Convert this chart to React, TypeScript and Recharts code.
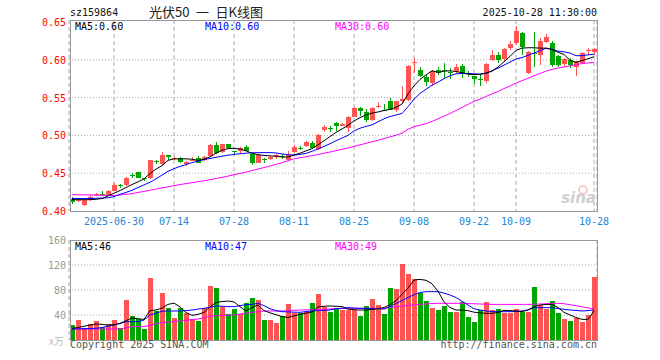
import React from "react";
import { ComposedChart, Bar, Line, XAxis, YAxis, CartesianGrid } from "recharts";

// trading days shown on the chart
const dates = [
  "2025-06-19", "2025-06-20", "2025-06-23", "2025-06-24", "2025-06-25", "2025-06-26", "2025-06-27", "2025-06-30",
  "2025-07-01", "2025-07-02", "2025-07-03", "2025-07-04", "2025-07-07", "2025-07-08", "2025-07-09", "2025-07-10",
  "2025-07-11", "2025-07-14", "2025-07-15", "2025-07-16", "2025-07-17", "2025-07-18", "2025-07-21", "2025-07-22",
  "2025-07-23", "2025-07-24", "2025-07-25", "2025-07-28", "2025-07-29", "2025-07-30", "2025-07-31",
  "2025-08-01", "2025-08-04", "2025-08-05", "2025-08-06", "2025-08-07", "2025-08-08", "2025-08-11", "2025-08-12",
  "2025-08-13", "2025-08-14", "2025-08-15", "2025-08-18", "2025-08-19", "2025-08-20", "2025-08-21", "2025-08-22",
  "2025-08-25", "2025-08-26", "2025-08-27", "2025-08-28", "2025-08-29",
  "2025-09-01", "2025-09-02", "2025-09-03", "2025-09-04", "2025-09-05", "2025-09-08", "2025-09-09", "2025-09-10",
  "2025-09-11", "2025-09-12", "2025-09-15", "2025-09-16", "2025-09-17", "2025-09-18", "2025-09-19", "2025-09-22",
  "2025-09-23", "2025-09-24", "2025-09-25", "2025-09-26", "2025-09-29", "2025-09-30",
  "2025-10-09", "2025-10-10", "2025-10-13", "2025-10-14", "2025-10-15", "2025-10-16", "2025-10-17", "2025-10-20",
  "2025-10-21", "2025-10-22", "2025-10-23", "2025-10-24", "2025-10-27", "2025-10-28",
];

const openP = [
  0.416, 0.413, 0.408, 0.414, 0.421, 0.423, 0.421, 0.427, 0.434, 0.434,
  0.447, 0.452, 0.443, 0.443, 0.466, 0.462, 0.474, 0.469, 0.470, 0.462,
  0.467, 0.470, 0.467, 0.473, 0.487, 0.478, 0.489, 0.479, 0.479, 0.485,
  0.476, 0.464, 0.469, 0.469, 0.471, 0.473, 0.468, 0.478, 0.484, 0.486,
  0.490, 0.482, 0.507, 0.510, 0.516, 0.513, 0.510, 0.525, 0.536, 0.531,
  0.520, 0.537, 0.534, 0.545, 0.533, 0.545, 0.547, 0.596, 0.587, 0.577,
  0.569, 0.587, 0.586, 0.584, 0.584, 0.592, 0.582, 0.578, 0.575, 0.572,
  0.600, 0.606, 0.601, 0.615, 0.622, 0.636, 0.582, 0.609, 0.607, 0.624,
  0.622, 0.605, 0.594, 0.600, 0.591, 0.596, 0.612, 0.611,
];
const closeP = [
  0.412, 0.414, 0.414, 0.419, 0.423, 0.422, 0.427, 0.435, 0.433, 0.444,
  0.446, 0.444, 0.442, 0.467, 0.465, 0.474, 0.472, 0.470, 0.465, 0.465,
  0.468, 0.464, 0.472, 0.487, 0.477, 0.488, 0.484, 0.478, 0.484, 0.480,
  0.463, 0.474, 0.468, 0.471, 0.474, 0.472, 0.474, 0.485, 0.483, 0.491,
  0.483, 0.500, 0.511, 0.509, 0.513, 0.515, 0.525, 0.536, 0.532, 0.520,
  0.536, 0.539, 0.533, 0.534, 0.545, 0.548, 0.592, 0.597, 0.579, 0.571,
  0.585, 0.582, 0.585, 0.583, 0.591, 0.583, 0.581, 0.575, 0.574, 0.595,
  0.607, 0.600, 0.614, 0.621, 0.638, 0.617, 0.611, 0.608, 0.625, 0.630,
  0.593, 0.593, 0.601, 0.593, 0.598, 0.609, 0.613, 0.614,
];
const highP = [
  0.418, 0.415, 0.415, 0.421, 0.424, 0.426, 0.428, 0.437, 0.436, 0.445,
  0.450, 0.452, 0.444, 0.468, 0.468, 0.478, 0.474, 0.472, 0.471, 0.466,
  0.471, 0.473, 0.473, 0.488, 0.491, 0.489, 0.489, 0.480, 0.485, 0.487,
  0.477, 0.475, 0.470, 0.473, 0.475, 0.475, 0.479, 0.487, 0.486, 0.492,
  0.492, 0.502, 0.514, 0.513, 0.518, 0.517, 0.526, 0.537, 0.538, 0.535,
  0.537, 0.544, 0.541, 0.550, 0.546, 0.565, 0.593, 0.603, 0.590, 0.580,
  0.587, 0.590, 0.596, 0.589, 0.594, 0.594, 0.585, 0.579, 0.581, 0.596,
  0.613, 0.610, 0.615, 0.625, 0.645, 0.637, 0.612, 0.637, 0.629, 0.634,
  0.625, 0.606, 0.603, 0.602, 0.599, 0.611, 0.616, 0.615,
];
const lowP = [
  0.409, 0.412, 0.407, 0.413, 0.420, 0.420, 0.420, 0.426, 0.431, 0.433,
  0.443, 0.443, 0.440, 0.442, 0.462, 0.461, 0.468, 0.467, 0.464, 0.460,
  0.466, 0.463, 0.466, 0.472, 0.476, 0.477, 0.483, 0.475, 0.476, 0.479,
  0.461, 0.463, 0.463, 0.468, 0.469, 0.469, 0.467, 0.477, 0.481, 0.485,
  0.482, 0.481, 0.505, 0.505, 0.506, 0.512, 0.505, 0.524, 0.526, 0.518,
  0.519, 0.536, 0.532, 0.533, 0.531, 0.543, 0.546, 0.583, 0.577, 0.565,
  0.566, 0.580, 0.576, 0.574, 0.583, 0.576, 0.577, 0.568, 0.565, 0.570,
  0.599, 0.596, 0.599, 0.613, 0.620, 0.607, 0.581, 0.591, 0.593, 0.622,
  0.590, 0.590, 0.592, 0.589, 0.578, 0.594, 0.606, 0.607,
];

// moving averages as drawn on the chart
const ma5 = [
  0.415, 0.415, 0.415, 0.415, 0.4155, 0.4165, 0.420, 0.4235, 0.427, 0.431,
  0.435, 0.4385, 0.4425, 0.4495, 0.4555, 0.460, 0.467, 0.469, 0.469, 0.469,
  0.4685, 0.467, 0.4685, 0.4715, 0.4765, 0.4805, 0.4825, 0.483, 0.482, 0.4795,
  0.4765, 0.4745, 0.4735, 0.473, 0.4725, 0.4715, 0.4715, 0.474, 0.4765, 0.4795,
  0.4825, 0.4875, 0.493, 0.4985, 0.504, 0.5085, 0.5135, 0.519, 0.5235, 0.527,
  0.5295, 0.531, 0.533, 0.5345, 0.537, 0.5415, 0.555, 0.5655, 0.574, 0.580,
  0.5855, 0.5835, 0.585, 0.5855, 0.5845, 0.583, 0.581, 0.5805, 0.581, 0.5825,
  0.585, 0.5905, 0.5975, 0.6045, 0.6125, 0.6155, 0.616, 0.616, 0.6155, 0.6155,
  0.6135, 0.610, 0.607, 0.5995, 0.5965, 0.599, 0.6015, 0.604,
];
const ma10 = [
  0.4165, 0.4165, 0.4165, 0.4165, 0.4168, 0.417, 0.4175, 0.419, 0.422, 0.4245,
  0.4275, 0.431, 0.4345, 0.438, 0.4425, 0.4475, 0.4525, 0.456, 0.459, 0.4615,
  0.464, 0.466, 0.468, 0.4695, 0.471, 0.4725, 0.4738, 0.4748, 0.4758, 0.4765,
  0.477, 0.4772, 0.4772, 0.4772, 0.4768, 0.4755, 0.4745, 0.474, 0.4748, 0.4762,
  0.479, 0.482, 0.4855, 0.489, 0.493, 0.4965, 0.500, 0.506, 0.5095, 0.512,
  0.514, 0.518, 0.522, 0.525, 0.527, 0.529, 0.538, 0.548, 0.5555, 0.561,
  0.5665, 0.5705, 0.575, 0.579, 0.5815, 0.582, 0.582, 0.5815, 0.581, 0.582,
  0.5855, 0.589, 0.593, 0.597, 0.601, 0.603, 0.606, 0.609, 0.612, 0.6155,
  0.614, 0.6115, 0.6105, 0.609, 0.6055, 0.6055, 0.6065, 0.6075,
];
const ma30 = [
  0.4215, 0.4215, 0.4213, 0.4212, 0.421, 0.4208, 0.4206, 0.4205, 0.4212, 0.422,
  0.423, 0.4245, 0.426, 0.4275, 0.429, 0.4305, 0.432, 0.4335, 0.435, 0.4362,
  0.4375, 0.4388, 0.440, 0.4415, 0.443, 0.4445, 0.4462, 0.448, 0.4497, 0.4515,
  0.4535, 0.4555, 0.4575, 0.4595, 0.4618, 0.464, 0.4665, 0.469, 0.4705, 0.4718,
  0.4732, 0.4748, 0.4765, 0.478, 0.4798, 0.4815, 0.4835, 0.4855, 0.4875, 0.4895,
  0.4915, 0.4935, 0.4958, 0.498, 0.5003, 0.503, 0.508, 0.5115, 0.5135, 0.5155,
  0.5185, 0.522, 0.5255, 0.529, 0.533, 0.537, 0.541, 0.545, 0.548, 0.5515,
  0.555, 0.558, 0.562, 0.5655, 0.569, 0.5725, 0.5755, 0.579, 0.582, 0.585,
  0.5875, 0.589, 0.5905, 0.592, 0.5935, 0.595, 0.596, 0.5965,
];

// volume, 万
const volume = [
  24, 32, 18.7, 25.6, 30.4, 21.3, 25.6, 32, 18.7, 64,
  39, 33.6, 17.6, 98.7, 46.4, 75.7, 50.7, 35.7, 50.7, 42.7,
  33.6, 30.4, 50.7, 86.4, 83.7, 53.3, 41, 49.6, 41, 58.7,
  66.7, 64, 32, 32, 27.7, 39, 57.6, 42.7, 42.7, 44.3,
  58.7, 73.6, 53.3, 44.3, 50.7, 48, 48, 48, 39, 54.4,
  65.6, 56, 41.6, 83.7, 81.6, 121.6, 105.6, 97.6, 75.7, 62.4,
  51.7, 48, 54.4, 45.3, 45.3, 60.3, 37.3, 29.3, 48, 60.8,
  48, 49.6, 43.7, 43.7, 49.6, 45.3, 45.3, 84.8, 56, 49.6,
  62.4, 43.2, 33.6, 30.4, 35.7, 29.3, 40, 101.3,
];
const vma5 = [
  18.7, 20, 22, 24, 25.6, 25, 24, 24.5, 26.5, 31,
  35, 34, 33, 47, 48, 51, 57, 59, 53, 44,
  39.5, 41, 44.3, 53, 60, 61.5, 62.4, 61, 53.3, 46.4,
  52, 56, 47, 43.5, 40.5, 37.5, 36, 38.5, 41, 43,
  44.5, 53, 54, 54.4, 54, 53.5, 49.5, 48.5, 48, 48,
  49, 50.2, 52, 56.5, 63, 73, 83, 96, 97, 95.5,
  90, 78, 61, 52, 48, 48, 47, 44.5, 43.5, 42.7,
  42.7, 44, 47.5, 47, 46.4, 45.5, 48, 53.3, 56, 57,
  57, 52, 44.3, 40, 36, 33, 33, 46.4,
];
const vma10 = [
  17.6, 17.8, 18, 18.3, 18.7, 20, 22, 24, 26.5, 29.3,
  29.3, 29.3, 32, 40, 43, 46, 46.4, 46.4, 46.4, 47,
  48, 49.5, 50.7, 52.5, 54.4, 54, 53.5, 53.3, 55, 56.5,
  57, 58.7, 55, 50, 47, 45.3, 45, 44.5, 44.3, 45.5,
  46.4, 47, 47.5, 48, 50, 51, 51.7, 51.2, 50.7, 50.7,
  50.2, 50, 49.5, 53.5, 58.5, 63, 68, 72.5, 76, 77.3,
  77.3, 77.3, 75, 72, 68, 62, 56, 50, 48, 46.5,
  45.5, 45.3, 45.3, 45.3, 45.8, 46.4, 48, 51.7, 51.7, 51.7,
  51.7, 50.5, 49, 48, 47.3, 46.4, 47, 48,
];
const vma30 = [
  17.6, 17.6, 17.6, 17.6, 17.6, 17.6, 17.6, 17.6, 17.6, 19.5,
  21.3, 21.3, 21.3, 23.5, 26, 27.5, 28.5, 29.5, 30.4, 31.5,
  32.5, 33.6, 35.5, 38, 39, 39.3, 39.7, 40, 41.5, 43,
  44.3, 45.3, 46.4, 46.4, 46.4, 46.4, 47, 47.5, 48, 48.2,
  48.4, 48.6, 48.8, 49.6, 50, 50.3, 50.5, 50.7, 50.7, 50.7,
  50.7, 50.7, 50.7, 52, 53.3, 54.3, 55.3, 56.3, 57, 57.8,
  58.3, 58.7, 58.7, 58.7, 58.7, 58.7, 58.3, 58, 57.6, 57.3,
  57, 57, 57, 57, 57, 57, 57, 57.3, 57.6, 58,
  58.3, 58.7, 58, 56.5, 54.9, 53, 51.5, 49.6,
];

const xTicks = ["2025-06-30", "2025-07-14", "2025-07-28", "2025-08-11", "2025-08-25", "2025-09-08", "2025-09-22", "2025-10-09", "2025-10-28"];
const priceTicks = [0.4, 0.45, 0.5, 0.55, 0.6, 0.65];
const volTicks = [40, 80, 120, 160];

const RED = "#ff5454";
const GREEN = "#00a600";
const GRID = "#a8a8a8";
const MONO = "'DejaVu Sans Mono', monospace";

const kData = dates.map((d, i) => ({
  date: d,
  open: openP[i],
  close: closeP[i],
  high: highP[i],
  low: lowP[i],
  ma5: ma5[i],
  ma10: ma10[i],
  ma30: ma30[i],
}));

const volData = dates.map((d, i) => ({
  date: d,
  vol: volume[i],
  up: closeP[i] >= openP[i],
  ma5: vma5[i],
  ma10: vma10[i],
  ma30: vma30[i],
}));

// candle drawn inside the [low, high] range bar
const Candle = (props: any) => {
  const { x, y, width, height, payload } = props;
  if (!payload || x == null || y == null) return null;
  const { open, close, high, low } = payload;
  const top = Math.min(y, y + height);
  const h = Math.abs(height);
  const span = high - low;
  const toY = (v: number) => (span > 0 ? top + ((high - v) / span) * h : top);
  const color = close >= open ? RED : GREEN;
  const left = Math.round(x);
  const bw = Math.round(width);
  const mid = left + Math.floor(bw / 2);
  const wTop = Math.round(top);
  const wBot = Math.round(top + h);
  const bTop = Math.round(toY(Math.max(open, close)));
  const bBot = Math.round(toY(Math.min(open, close)));
  return (
    <g shapeRendering="crispEdges">
      <rect x={mid} y={wTop} width={1} height={Math.max(1, wBot - wTop)} fill={color} />
      <rect x={left} y={bTop} width={bw} height={Math.max(1, bBot - bTop)} fill={color} />
    </g>
  );
};

const VolBar = (props: any) => {
  const { x, y, width, height, payload } = props;
  if (!payload || x == null || y == null) return null;
  const top = Math.round(y);
  const bottom = Math.round(y + height);
  return (
    <rect
      x={Math.round(x)}
      y={top}
      width={Math.round(width)}
      height={Math.max(0, bottom - top)}
      fill={payload.up ? RED : GREEN}
      shapeRendering="crispEdges"
    />
  );
};

const PriceTick = ({ y, payload }: any) => (
  <text x={66} y={y + 4} textAnchor="end" fill="#ff0000" fontSize={10} fontFamily={MONO}>
    {Number(payload.value).toFixed(2)}
  </text>
);

const VolTick = ({ y, payload }: any) => (
  <text x={66} y={y + 4} textAnchor="end" fill="#999" fontSize={10} fontFamily={MONO}>
    {payload.value}
  </text>
);

const DateTick = ({ x, y, payload, index }: any) => (
  <text x={x} y={y + 14} textAnchor="middle" fill="#1e86d6" fontSize={10} fontFamily={MONO}>
    {index === 0 ? payload.value : String(payload.value).slice(5)}
  </text>
);

export default function App() {
  return (
    <div style={{ position: "absolute", left: 0, top: 0, width: 660, height: 360, background: "#fff", overflow: "hidden" }}>
      <div style={{ position: "absolute", left: 0, top: 0 }}>
        <ComposedChart width={660} height={232} data={kData} margin={{ top: 20, right: 63, bottom: 0, left: 0 }}>
          <CartesianGrid vertical={false} horizontalValues={[0.45, 0.5, 0.55, 0.6]} stroke={GRID} strokeDasharray="1 2" />
          <CartesianGrid horizontal={false} stroke={GRID} strokeDasharray="4 3" />
          <XAxis
            dataKey="date"
            ticks={xTicks}
            interval={0}
            height={21}
            tickSize={0}
            tickMargin={0}
            tickLine={false}
            axisLine={false}
            tick={<DateTick />}
          />
          <YAxis
            type="number"
            domain={[0.4, 0.6527]}
            ticks={priceTicks}
            allowDataOverflow
            width={69}
            tickLine={false}
            axisLine={false}
            tick={<PriceTick />}
          />
          <Bar dataKey={(d: any) => [d.low, d.high]} barSize={5} shape={<Candle />} isAnimationActive={false} />
          <Line dataKey="ma30" stroke="#ff00ff" strokeWidth={1} dot={false} isAnimationActive={false} />
          <Line dataKey="ma10" stroke="#0000ff" strokeWidth={1} dot={false} isAnimationActive={false} />
          <Line dataKey="ma5" stroke="#000000" strokeWidth={1} dot={false} isAnimationActive={false} />
        </ComposedChart>
      </div>

      <div style={{ position: "absolute", left: 0, top: 230 }}>
        <ComposedChart width={660} height={130} data={volData} margin={{ top: 10, right: 63, bottom: 20, left: 0 }}>
          <CartesianGrid vertical={false} horizontalValues={[40, 80, 120]} stroke={GRID} strokeDasharray="1 2" />
          <CartesianGrid horizontal={false} stroke={GRID} strokeDasharray="4 3" />
          <XAxis dataKey="date" ticks={xTicks} interval={0} height={0} tick={false} tickLine={false} axisLine={false} />
          <YAxis
            type="number"
            domain={[0, 160]}
            ticks={volTicks}
            width={69}
            tickLine={false}
            axisLine={false}
            tick={<VolTick />}
          />
          <Bar dataKey="vol" barSize={5} shape={<VolBar />} isAnimationActive={false} />
          <Line dataKey="ma30" stroke="#ff00ff" strokeWidth={1} dot={false} isAnimationActive={false} />
          <Line dataKey="ma10" stroke="#0000ff" strokeWidth={1} dot={false} isAnimationActive={false} />
          <Line dataKey="ma5" stroke="#000000" strokeWidth={1} dot={false} isAnimationActive={false} />
        </ComposedChart>
      </div>

      {/* frames and captions */}
      <svg width={660} height={360} style={{ position: "absolute", left: 0, top: 0, pointerEvents: "none" }}>
        <rect x={70.5} y={20.5} width={527} height={191} fill="none" stroke="#999" shapeRendering="crispEdges" />
        <rect x={70.5} y={240.5} width={527} height={100} fill="none" stroke="#999" shapeRendering="crispEdges" />

        <text x={70} y={16} fontSize={10} fontFamily={MONO} fill="#111">sz159864</text>
        <text x={206} y={17} textAnchor="middle" fontSize={13} fontFamily="'Noto Sans CJK SC', sans-serif" fill="#222">
          {"光伏50\u2002一\u2002日K线图"}
        </text>
        <text x={597} y={16} textAnchor="end" fontSize={10} fontFamily={MONO} fill="#111">2025-10-28 11:30:00</text>

        <text x={75} y={30} fontSize={10} fontFamily={MONO} fill="#000">MA5:0.60</text>
        <text x={205} y={30} fontSize={10} fontFamily={MONO} fill="#0000ff">MA10:0.60</text>
        <text x={335} y={30} fontSize={10} fontFamily={MONO} fill="#ff00ff">MA30:0.60</text>

        <text x={75} y={250} fontSize={10} fontFamily={MONO} fill="#000">MA5:46</text>
        <text x={205} y={250} fontSize={10} fontFamily={MONO} fill="#0000ff">MA10:47</text>
        <text x={335} y={250} fontSize={10} fontFamily={MONO} fill="#ff00ff">MA30:49</text>

        <text x={64} y={345} textAnchor="end" fontSize={10} fontFamily="'Noto Sans CJK SC', sans-serif" fill="#bbb">x万</text>
        <text x={70} y={348} fontSize={10} fontFamily={MONO} fill="#555">Copyright 2025 SINA.COM</text>
        <text x={597} y={348} textAnchor="end" fontSize={10} fontFamily={MONO} fill="#555">http://finance.sina.com.cn</text>

        <circle cx={583} cy={190} r={4} fill="none" stroke="#f2b8b8" strokeWidth={1.5} />
        <text x={596} y={203} textAnchor="end" fontSize={15} fontStyle="italic" fontWeight="bold" fontFamily="'DejaVu Sans', sans-serif" fill="#d0d0d0">
          sina
        </text>
      </svg>
    </div>
  );
}
